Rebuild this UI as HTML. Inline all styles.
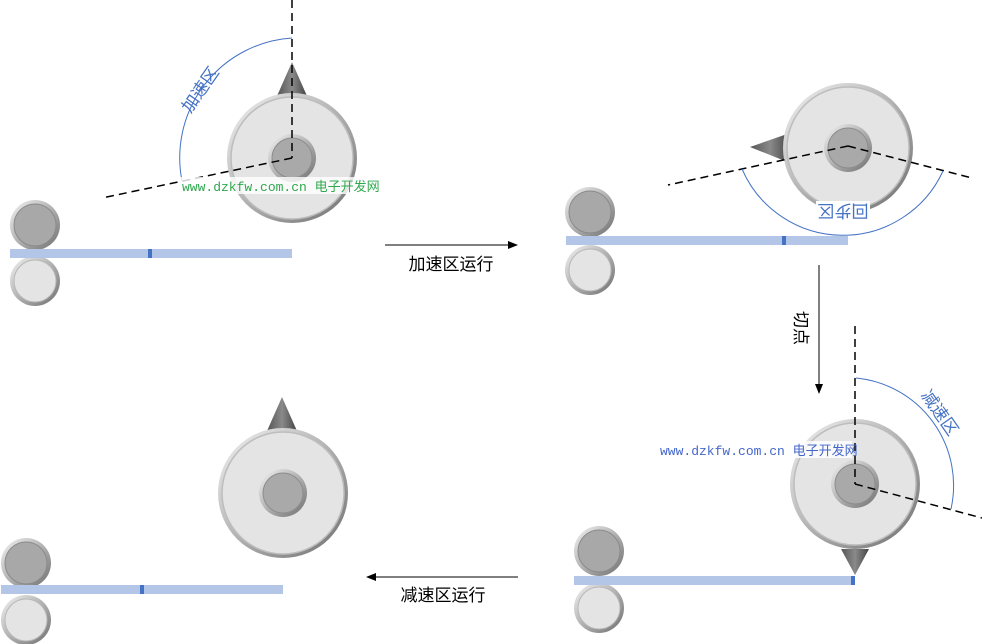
<!DOCTYPE html>
<html><head><meta charset="utf-8"><style>
html,body{margin:0;padding:0;background:#fff;}
svg{display:block;}
text{font-family:"Liberation Sans","Noto Sans CJK SC",sans-serif;}
.wm{font-family:"Liberation Mono","Noto Sans CJK SC",monospace;}
</style></head><body>
<svg width="982" height="644" viewBox="0 0 982 644" xmlns="http://www.w3.org/2000/svg">
<defs>
<linearGradient id="edge" x1="0" y1="0" x2="1" y2="1">
<stop offset="0" stop-color="#f4f4f4"/><stop offset="1" stop-color="#6e6e6e"/>
</linearGradient>
<linearGradient id="knife" x1="0" y1="0" x2="1" y2="0">
<stop offset="0" stop-color="#555"/><stop offset="0.5" stop-color="#8a8a8a"/><stop offset="1" stop-color="#444"/>
</linearGradient>
<g id="disc">
<circle r="65" fill="url(#edge)"/>
<circle r="61" fill="#e4e4e4" stroke="#bdbdbd" stroke-width="1.5"/>
<circle r="24" fill="url(#edge)"/>
<circle r="20" fill="#a9a9a9" stroke="#8c8c8c"/>
</g>
<g id="rd">
<circle r="25" fill="url(#edge)"/>
<circle r="21" fill="#a8a8a8" stroke="#8a8a8a"/>
</g>
<g id="rl">
<circle r="25" fill="url(#edge)"/>
<circle r="21" fill="#e4e4e4" stroke="#b8b8b8"/>
</g>
<marker id="ah" markerWidth="10" markerHeight="8" refX="9" refY="4" orient="auto" markerUnits="userSpaceOnUse">
<path d="M0,0 L10,4 L0,8 Z" fill="#000"/>
</marker>
</defs>

<path d="M277,96 L292,62 L307,96 Z" fill="url(#knife)"/>
<use href="#disc" x="292" y="158"/>
<line x1="292" y1="0" x2="292" y2="158" stroke="#000" stroke-width="1.5" stroke-dasharray="8,5"/>
<line x1="292" y1="158" x2="102" y2="198" stroke="#000" stroke-width="1.5" stroke-dasharray="8,5"/>
<path d="M292,38 A120,120 0 0 0 182,181" fill="none" stroke="#4472c4" stroke-width="1"/>
<text x="205" y="93" font-size="17" fill="#4472c4" text-anchor="middle" transform="rotate(-55 205 93)">加速区</text>
<rect x="180" y="177" width="196" height="17" fill="#fff" opacity="0.8"/>
<text x="182" y="191" class="wm" font-size="13" fill="#2fa84f">www.dzkfw.com.cn 电子开发网</text>
<use href="#rd" x="35" y="225"/>
<use href="#rl" x="35" y="281"/>
<rect x="10" y="249" width="282" height="9" fill="#b4c6e7"/>
<rect x="148" y="249" width="4" height="9" fill="#4472c4"/>

<line x1="385" y1="245" x2="517" y2="245" stroke="#000" stroke-width="1" marker-end="url(#ah)"/>
<text x="451" y="270" font-size="17" text-anchor="middle" fill="#000">加速区运行</text>

<path d="M790,133 L750,147 L790,163 Z" fill="url(#knife)"/>
<use href="#disc" x="848" y="148"/>
<line x1="848" y1="146" x2="668" y2="185" stroke="#000" stroke-width="1.5" stroke-dasharray="8,5"/>
<line x1="848" y1="146" x2="972" y2="178" stroke="#000" stroke-width="1.5" stroke-dasharray="8,5"/>
<path d="M742,169 A110,110 0 0 0 943,171" fill="none" stroke="#4472c4" stroke-width="1"/>
<rect x="816" y="201" width="54" height="20" fill="#fff"/>
<text x="843" y="211" font-size="17" fill="#4472c4" text-anchor="middle" transform="rotate(180 843 211) translate(0,6)">回步区</text>
<use href="#rd" x="590" y="212"/>
<use href="#rl" x="590" y="270"/>
<rect x="566" y="236" width="282" height="9" fill="#b4c6e7"/>
<rect x="782" y="236" width="4" height="9" fill="#4472c4"/>

<line x1="819" y1="265" x2="819" y2="393" stroke="#000" stroke-width="1" marker-end="url(#ah)"/>
<text x="801" y="328" font-size="17" text-anchor="middle" fill="#000" transform="rotate(90 801 328) translate(0,6)">切点</text>

<path d="M841,549 L855,575 L869,549 Z" fill="url(#knife)"/>
<use href="#disc" x="855" y="484"/>
<line x1="855" y1="326" x2="855" y2="484" stroke="#000" stroke-width="1.5" stroke-dasharray="8,5"/>
<line x1="855" y1="484" x2="982" y2="518" stroke="#000" stroke-width="1.5" stroke-dasharray="8,5"/>
<path d="M856,378 A108,108 0 0 1 951,509" fill="none" stroke="#4472c4" stroke-width="1"/>
<text x="935" y="416" font-size="17" fill="#4472c4" text-anchor="middle" transform="rotate(55 935 416)">减速区</text>
<rect x="656" y="441" width="196" height="17" fill="#fff" opacity="0.8"/>
<text x="660" y="455" class="wm" font-size="13" fill="#4466cc">www.dzkfw.com.cn 电子开发网</text>
<use href="#rd" x="599" y="551"/>
<use href="#rl" x="599" y="608"/>
<rect x="574" y="576" width="281" height="9" fill="#b4c6e7"/>
<rect x="851" y="576" width="4" height="9" fill="#4472c4"/>

<line x1="518" y1="577" x2="367" y2="577" stroke="#000" stroke-width="1" marker-end="url(#ah)"/>
<text x="443" y="601" font-size="17" text-anchor="middle" fill="#000">减速区运行</text>

<path d="M267,431 L282,397 L297,431 Z" fill="url(#knife)"/>
<use href="#disc" x="283" y="493"/>
<use href="#rd" x="26" y="563"/>
<use href="#rl" x="26" y="620"/>
<rect x="1" y="585" width="282" height="9" fill="#b4c6e7"/>
<rect x="140" y="585" width="4" height="9" fill="#4472c4"/>
</svg>
</body></html>
